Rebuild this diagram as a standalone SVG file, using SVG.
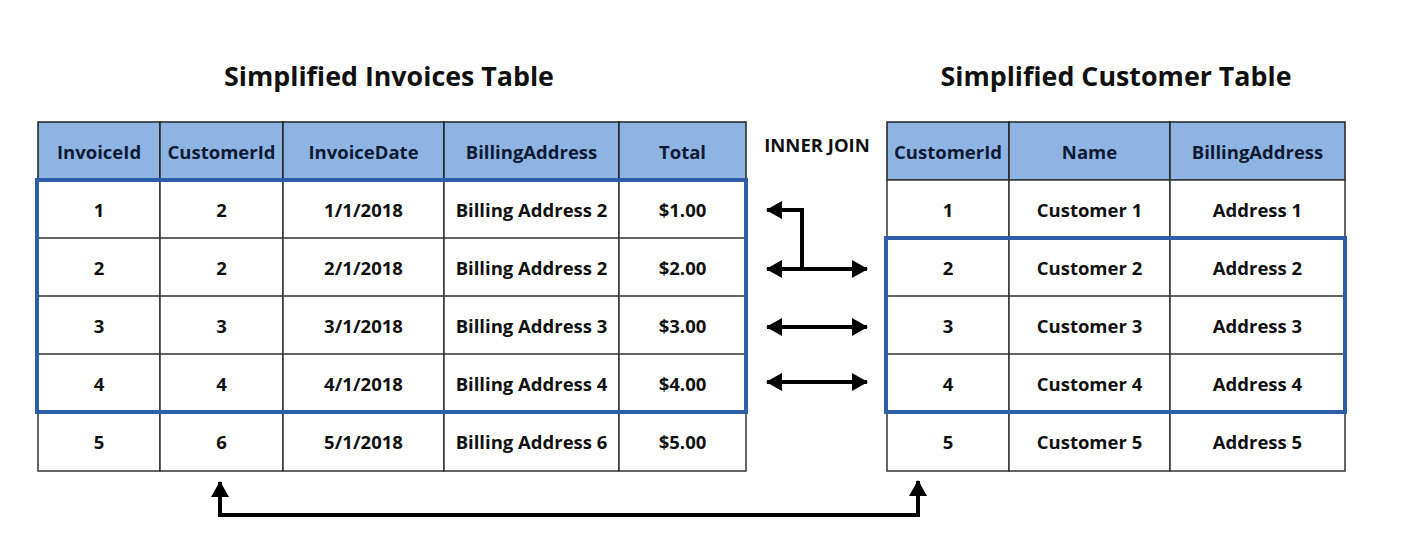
<svg xmlns="http://www.w3.org/2000/svg" width="1405" height="555" viewBox="0 0 1405 555">
<style>
.title{font-family:"Open Sans","Noto Sans",sans-serif;font-weight:700;font-size:26.8px;fill:#111;text-anchor:middle;dominant-baseline:central}
.hd{fill:#8eb4e3;stroke:#222;stroke-width:1.5}
.cell{fill:#fff;stroke:#333;stroke-width:1.5}
.ht{font-family:"Open Sans","Noto Sans",sans-serif;font-weight:700;font-size:18.5px;fill:#0e1a33;text-anchor:middle;dominant-baseline:central}
.bt{font-family:"Open Sans","Noto Sans",sans-serif;font-weight:700;font-size:18.5px;fill:#111;text-anchor:middle;dominant-baseline:central}
.hl{fill:none;stroke:#2f5ea8;stroke-width:4}
.conn{fill:none;stroke:#000;stroke-width:4}
</style>
<defs>
<marker id="ah" viewBox="0 0 16 18" refX="15" refY="9" markerWidth="16" markerHeight="18" markerUnits="userSpaceOnUse" orient="auto-start-reverse">
<path d="M0,0 L16,9 L0,18 z" fill="#000"/>
</marker>
</defs>
<rect width="1405" height="555" fill="#fff"/>
<text class="title" x="389" y="75">Simplified Invoices Table</text>
<text class="title" x="1116" y="75">Simplified Customer Table</text>
<g id="invoices">
<g id="inv-header">
<rect class="hd" x="38" y="122" width="122" height="58"/>
<rect class="hd" x="160" y="122" width="123" height="58"/>
<rect class="hd" x="283" y="122" width="161" height="58"/>
<rect class="hd" x="444" y="122" width="175" height="58"/>
<rect class="hd" x="619" y="122" width="127" height="58"/>
<text class="ht" x="99" y="151">InvoiceId</text>
<text class="ht" x="221.5" y="151">CustomerId</text>
<text class="ht" x="363.5" y="151">InvoiceDate</text>
<text class="ht" x="531.5" y="151">BillingAddress</text>
<text class="ht" x="682.5" y="151">Total</text>
</g>
<g id="inv-body">
<rect class="cell" x="38" y="180" width="122" height="291"/>
<rect class="cell" x="160" y="180" width="123" height="291"/>
<rect class="cell" x="283" y="180" width="161" height="291"/>
<rect class="cell" x="444" y="180" width="175" height="291"/>
<rect class="cell" x="619" y="180" width="127" height="291"/>
<path d="M38,238 H746 M38,296 H746 M38,354 H746 M38,412 H746" stroke="#333" stroke-width="1.5" fill="none"/>
<text class="bt" x="99" y="209">1</text><text class="bt" x="221.5" y="209">2</text><text class="bt" x="363.5" y="209">1/1/2018</text><text class="bt" x="531.5" y="209">Billing Address 2</text><text class="bt" x="682.5" y="209">$1.00</text>
<text class="bt" x="99" y="267">2</text><text class="bt" x="221.5" y="267">2</text><text class="bt" x="363.5" y="267">2/1/2018</text><text class="bt" x="531.5" y="267">Billing Address 2</text><text class="bt" x="682.5" y="267">$2.00</text>
<text class="bt" x="99" y="325">3</text><text class="bt" x="221.5" y="325">3</text><text class="bt" x="363.5" y="325">3/1/2018</text><text class="bt" x="531.5" y="325">Billing Address 3</text><text class="bt" x="682.5" y="325">$3.00</text>
<text class="bt" x="99" y="383">4</text><text class="bt" x="221.5" y="383">4</text><text class="bt" x="363.5" y="383">4/1/2018</text><text class="bt" x="531.5" y="383">Billing Address 4</text><text class="bt" x="682.5" y="383">$4.00</text>
<text class="bt" x="99" y="441">5</text><text class="bt" x="221.5" y="441">6</text><text class="bt" x="363.5" y="441">5/1/2018</text><text class="bt" x="531.5" y="441">Billing Address 6</text><text class="bt" x="682.5" y="441">$5.00</text>
</g>
<rect id="inv-highlight" class="hl" x="37" y="180" width="709" height="232"/>
</g>
<g id="customers">
<g id="cus-header">
<rect class="hd" x="887" y="122" width="122" height="58"/>
<rect class="hd" x="1009" y="122" width="161" height="58"/>
<rect class="hd" x="1170" y="122" width="175" height="58"/>
<text class="ht" x="948" y="151">CustomerId</text>
<text class="ht" x="1089.5" y="151">Name</text>
<text class="ht" x="1257.5" y="151">BillingAddress</text>
</g>
<g id="cus-body">
<rect class="cell" x="887" y="180" width="122" height="291"/>
<rect class="cell" x="1009" y="180" width="161" height="291"/>
<rect class="cell" x="1170" y="180" width="175" height="291"/>
<path d="M887,238 H1345 M887,296 H1345 M887,354 H1345 M887,412 H1345" stroke="#333" stroke-width="1.5" fill="none"/>
<text class="bt" x="948" y="209">1</text><text class="bt" x="1089.5" y="209">Customer 1</text><text class="bt" x="1257.5" y="209">Address 1</text>
<text class="bt" x="948" y="267">2</text><text class="bt" x="1089.5" y="267">Customer 2</text><text class="bt" x="1257.5" y="267">Address 2</text>
<text class="bt" x="948" y="325">3</text><text class="bt" x="1089.5" y="325">Customer 3</text><text class="bt" x="1257.5" y="325">Address 3</text>
<text class="bt" x="948" y="383">4</text><text class="bt" x="1089.5" y="383">Customer 4</text><text class="bt" x="1257.5" y="383">Address 4</text>
<text class="bt" x="948" y="441">5</text><text class="bt" x="1089.5" y="441">Customer 5</text><text class="bt" x="1257.5" y="441">Address 5</text>
</g>
<rect id="cus-highlight" class="hl" x="886" y="238" width="459" height="174"/>
</g>
<g id="join-label">
<text class="bt" x="817" y="144" style="font-size:18.5px">INNER JOIN</text>
</g>
<g id="connectors">
<path class="conn" d="M802,269 V210 H767" marker-end="url(#ah)"/>
<path class="conn" d="M767,269 H867" marker-start="url(#ah)" marker-end="url(#ah)"/>
<path class="conn" d="M767,327 H867" marker-start="url(#ah)" marker-end="url(#ah)"/>
<path class="conn" d="M767,382 H867" marker-start="url(#ah)" marker-end="url(#ah)"/>
<path class="conn" d="M220,482 V515 H918 V481" marker-start="url(#ah)" marker-end="url(#ah)"/>
</g>
</svg>
